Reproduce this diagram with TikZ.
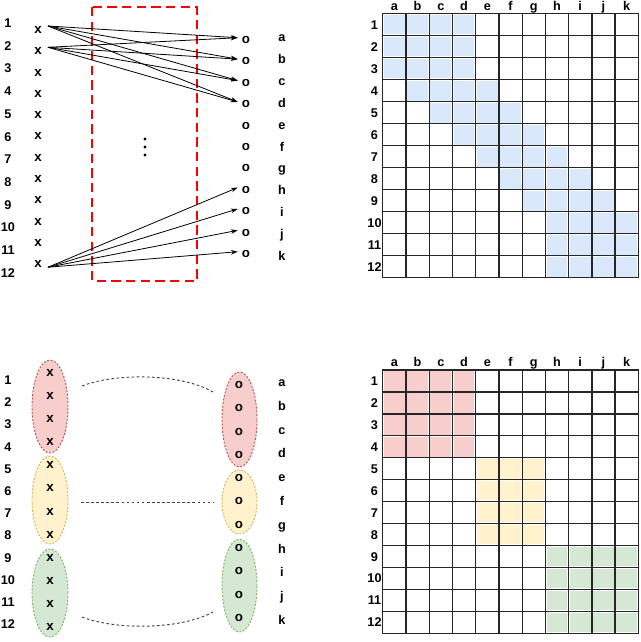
\documentclass[tikz,border=0pt]{standalone}
\usepackage{fontspec}
\setmainfont{Liberation Sans}
\usetikzlibrary{shapes.geometric,arrows.meta}
\definecolor{blueF}{HTML}{DAE8FC}
\definecolor{redF}{HTML}{F8CECC}
\definecolor{redD}{HTML}{B85450}
\definecolor{yelF}{HTML}{FFF2CC}
\definecolor{yelD}{HTML}{D6B656}
\definecolor{grnF}{HTML}{D5E8D4}
\definecolor{grnD}{HTML}{82B366}
\begin{document}
\begin{tikzpicture}[x=0.75pt,y=-0.75pt,
  lab/.style={font=\fontsize{9.5}{11}\selectfont\bfseries, inner sep=0, text height=6.8pt, text depth=0pt},
  mk/.style={font=\fontsize{10}{12}\selectfont\bfseries, inner sep=0, text height=5.2pt, text depth=0pt},
  arr/.style={-{Stealth[length=5pt,width=3.4pt]}, line width=0.6pt},
  grp/.style={ellipse, inner sep=0, dash pattern=on 1.5pt off 1.2pt, line width=0.7pt},
  conn/.style={draw=black!75, line width=0.7pt, dash pattern=on 2pt off 1.8pt},
  gridl/.style={line width=0.95pt, draw=black!85, line cap=rect},
  redbox/.style={draw=red, line width=2.2pt, dash pattern=on 7pt off 4pt}]
\useasboundingbox (0,0) rectangle (640,642);

% ---------- top-left ----------
\foreach \i in {1,...,12} {
  \node[lab] (n\i) at (8,{23+22.7*(\i-1)}) {\i};
  \node[mk] (x\i) at (38,{30+21.3*(\i-1)}) {x};
}
\foreach \l [count=\j] in {a,b,c,d,e,f,g,h,i,j,k} {
  \node[mk] (o\l) at (246,{40+21.4*(\j-1)}) {o};
  \node[lab] (l\l) at (282,{37+21.9*(\j-1)}) {\l};
}
\draw[redbox] (92,7) rectangle (197,281);
\foreach \y in {139,147,155} \fill (145,\y) circle (1.3pt);
\foreach \t in {a,b,c,d} {
  \draw[arr] ([xshift=4.5pt,yshift=3pt]x1.east) -- ([xshift=-3pt,yshift=1.7pt]o\t.west);
  \draw[arr] ([xshift=4.5pt,yshift=3pt]x2.east) -- ([xshift=-3pt,yshift=1.7pt]o\t.west);
}
\foreach \t in {h,i,j,k} {
  \draw[arr] ([xshift=4.5pt,yshift=-2.2pt]x12.east) -- ([xshift=-3pt,yshift=1.7pt]o\t.west);
}

% ---------- bottom-left ----------
\node[grp, draw=redD, fill=redF, minimum width=27pt, minimum height=69.75pt] (eL1) at (50,406.5) {};
\node[grp, draw=yelD, fill=yelF, minimum width=27pt, minimum height=66pt] (eL2) at (50,500) {};
\node[grp, draw=grnD, fill=grnF, minimum width=27pt, minimum height=66pt] (eL3) at (50,593) {};
\node[grp, draw=redD, fill=redF, minimum width=26.25pt, minimum height=71.25pt] (eR1) at (239.5,419.5) {};
\node[grp, draw=yelD, fill=yelF, minimum width=26.25pt, minimum height=48pt] (eR2) at (239.5,502) {};
\node[grp, draw=grnD, fill=grnF, minimum width=26.25pt, minimum height=69.75pt] (eR3) at (239.5,585.5) {};
\foreach \i in {1,...,12} {
  \node[lab] (bn\i) at (8,{380+22.2*(\i-1)}) {\i};
  \node[mk] (bx\i) at (50,{373+23.1*(\i-1)}) {x};
}
\foreach \l [count=\j] in {a,b,c,d,e,f,g,h,i,j,k} {
  \node[mk] (bo\l) at (239,{385+23.3*(\j-1)}) {o};
  \node[lab] (bl\l) at (282,{382+23.8*(\j-1)}) {\l};
}
\coordinate (c1a) at (82,386);  \coordinate (c1b) at (213,392);
\coordinate (c2a) at (81,502);  \coordinate (c2b) at (213,502);
\coordinate (c3a) at (82,617);  \coordinate (c3b) at (213,612);
\draw[conn] (c1a) .. controls (115,373) and (180,373) .. (c1b);
\draw[conn] (c2a) -- (c2b);
\draw[conn] (c3a) .. controls (115,630) and (180,630) .. (c3b);

% ---------- top-right grid ----------
\foreach \r/\a/\b in {1/1/4,2/1/4,3/1/4,4/2/5,5/3/6,6/4/7,7/5/8,8/6/9,9/7/10,10/8/11,11/8/11,12/8/11} {
  \foreach \c in {\a,...,\b} {
    \fill[blueF] ({382.7+(\c-1)*23.24+1.2},{13.7+(\r-1)*22+1.2}) rectangle ({382.7+\c*23.24-1.2},{13.7+\r*22-1.2});
  }
}
\foreach \c in {0,...,11} \draw[gridl] ({382.7+\c*23.24},13.7) -- ({382.7+\c*23.24},277.7);
\foreach \r in {0,...,12} \draw[gridl] (382.7,{13.7+\r*22}) -- (638.3,{13.7+\r*22});
\foreach \l [count=\c] in {a,b,c,d,e,f,g,h,i,j,k}
  \node[lab] (th\l) at ({382.7+(\c-0.5)*23.24},6) {\l};
\foreach \r in {1,...,12}
  \node[lab] (tr\r) at (374.5,{13.7+(\r-0.5)*22}) {\r};

% ---------- bottom-right grid ----------
\foreach \r/\a/\b/\col in {1/1/4/redF,2/1/4/redF,3/1/4/redF,4/1/4/redF,5/5/7/yelF,6/5/7/yelF,7/5/7/yelF,8/5/7/yelF,9/8/11/grnF,10/8/11/grnF,11/8/11/grnF,12/8/11/grnF} {
  \foreach \c in {\a,...,\b} {
    \fill[\col] ({382.7+(\c-1)*23.24+1.2},{370+(\r-1)*21.94+1.2}) rectangle ({382.7+\c*23.24-1.2},{370+\r*21.94-1.2});
  }
}
\foreach \c in {0,...,11} \draw[gridl] ({382.7+\c*23.24},370) -- ({382.7+\c*23.24},633.3);
\foreach \r in {0,...,12} \draw[gridl] (382.7,{370+\r*21.94}) -- (638.3,{370+\r*21.94});
\foreach \l [count=\c] in {a,b,c,d,e,f,g,h,i,j,k}
  \node[lab] (bh\l) at ({382.7+(\c-0.5)*23.24},362) {\l};
\foreach \r in {1,...,12}
  \node[lab] (br\r) at (374.5,{370+(\r-0.5)*21.94}) {\r};
\end{tikzpicture}
\end{document}
